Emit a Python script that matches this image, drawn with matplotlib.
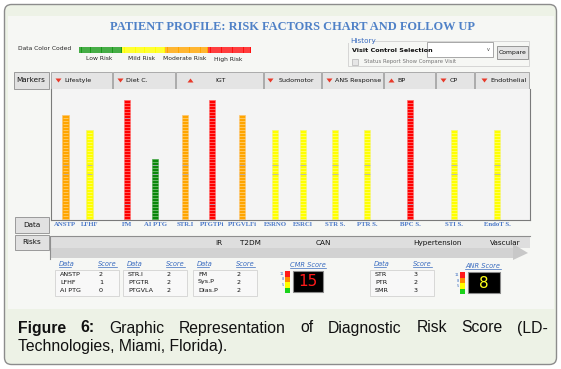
import matplotlib.pyplot as plt
import numpy as np
from matplotlib.patches import Rectangle, FancyBboxPatch, Polygon

# ---- data ----
markers = ['ANSTP', 'LFHF', 'FM', 'AI PTG', 'STR.I', 'PTGTPi', 'PTGVLFi',
           'ESRNO', 'ESRCl', 'STR S.', 'PTR S.', 'BPC S.', 'STI S.', 'EndoT S.']
levels = [35, 30, 40, 20, 35, 40, 35, 30, 30, 30, 30, 40, 30, 30]
risk_cls = ['moderate', 'mild', 'high', 'low', 'moderate', 'high', 'moderate',
            'mild', 'mild', 'mild', 'mild', 'high', 'mild', 'mild']
slots = [14.5, 38.5, 76, 104, 134, 161, 191, 224, 252, 284, 316, 359, 403, 446]

groups = ['Lifestyle', 'Diet C.', 'IGT', 'Sudomotor', 'ANS Response', 'BP', 'CP', 'Endothelial']
group_up = [False, False, True, False, False, True, False, False]
risks = ['IR', 'T2DM', 'CAN', 'Hypertension', 'Vascular']

tables = [
    (['ANSTP', 'LFHF', 'AI PTG'], [2, 1, 0]),
    (['STR.I', 'PTGTR', 'PTGVLA'], [2, 2, 2]),
    (['FM', 'Sys.P', 'Dias.P'], [2, 2, 2]),
    (['STR', 'PTR', 'SMR'], [3, 2, 3]),
]
cmr_score = 15
anr_score = 8

risk_colors = {'low': '#0a870a', 'mild': '#ffff00', 'moderate': '#ffa500', 'high': '#ff0000'}
edge_colors = {'low': '#4aa84a', 'mild': '#f4f47a', 'moderate': '#fcc46e', 'high': '#ff6a6a'}

fig = plt.figure(figsize=(5.61, 3.69), dpi=100)
fig.patch.set_facecolor('white')

# background axes in pixel coordinates
bg = fig.add_axes([0, 0, 1, 1])
bg.set_xlim(0, 561)
bg.set_ylim(369, 0)
bg.axis('off')

ui = 'DejaVu Sans'


def rect(x0, y0, x1, y1, **kw):
    bg.add_patch(Rectangle((x0, y0), x1 - x0, y1 - y0, **kw))


# outer frame + caption background
bg.add_patch(FancyBboxPatch((4.5, 4.5), 552, 360, boxstyle='round,pad=0,rounding_size=7',
                            fc='#edf2e6', ec='#8c8c8c', lw=1.0))
rect(8, 16, 554, 309, fc='#f6f7f4', ec='none')

# title
bg.text(293, 27, 'PATIENT PROFILE: RISK FACTORS CHART AND FOLLOW UP', ha='center', va='center',
        fontsize=8.9, family='Liberation Serif', weight='bold', color='#4f81c7')

# color legend
bg.text(18, 48.5, 'Data Color Coded', fontsize=4.3, family=ui, va='center', color='#222222')
seg_cols = ['#1a9a1a', '#ffff00', '#ffa500', '#ff1010']
seg_labels = ['Low Risk', 'Mild Risk', 'Moderate Risk', 'High Risk']
for i, (c, lab) in enumerate(zip(seg_cols, seg_labels)):
    x0 = 79 + i * 43
    rect(x0, 47, x0 + 43, 52.5, fc=c, ec='none')
    for xs in np.arange(x0 + 1.5, x0 + 43, 2.2):
        bg.plot([xs, xs], [47, 52.5], color='white', lw=0.35, alpha=0.8)
    bg.text(x0 + 20, 59, lab, fontsize=4.3, family=ui, ha='center', va='center', color='#222222')

# history box
rect(348, 40.5, 529, 66, fc='none', ec='#d0d0d0', lw=0.6)
rect(348, 38, 372, 43, fc='#f6f7f4', ec='none')
bg.text(350, 40.5, 'History', fontsize=5.2, family=ui, color='#3a6cc0', va='center')
bg.text(352, 50.5, 'Visit Control Selection', fontsize=4.6, family=ui, weight='bold', va='center',
        color='#111111')
rect(427, 42, 493, 57, fc='white', ec='#9a9a9a', lw=0.6)
bg.text(488, 49.5, 'v', fontsize=3.5, family=ui, ha='center', va='center', color='#444444')
rect(497, 46, 528, 58.5, fc='#e4e4e4', ec='#8a8a8a', lw=0.6)
bg.text(512.5, 52.5, 'Compare', fontsize=4.4, family=ui, ha='center', va='center', color='#111111')
rect(352, 59, 358, 64.5, fc='#e6e6e6', ec='#b4b4b4', lw=0.5)
bg.text(364, 61.5, 'Status Report Show Compare Visit', fontsize=3.9, family=ui, va='center',
        color='#777777')

# header row
cell_edges = [51, 113, 176, 264, 322, 384, 436, 475, 530]
rect(14, 72, 49, 89, fc='#e1e1e1', ec='#9a9a9a', lw=0.7)
bg.text(16, 80.5, 'Markers', fontsize=5.2, family=ui, va='center', color='#111111')
for i, g in enumerate(groups):
    x0, x1 = cell_edges[i] + 0.5, cell_edges[i + 1] - 0.5
    rect(x0, 72, x1, 89, fc='#e4e4e4', ec='#a0a0a0', lw=0.6)
    w = x1 - x0
    if w > 70:
        tx, ty = x0 + 14, x0 + w * 0.45
    else:
        tx, ty = x0 + 7, x0 + 13
    if g == 'Endothelial':
        tx, ty = x0 + 9, x0 + 15
    if g == 'Sudomotor':
        tx, ty = x0 + 6, x0 + 14
    if group_up[i]:
        tri = [[tx - 3, 82.5], [tx + 3, 82.5], [tx, 78.5]]
    else:
        tri = [[tx - 3, 78.5], [tx + 3, 78.5], [tx, 82.5]]
    bg.add_patch(Polygon(tri, closed=True, fc='#e83a2a', ec='none'))
    bg.text(ty, 80.5, g, fontsize=4.6, family=ui, va='center', color='#111111')

# side cells
rect(15, 217, 49, 233, fc='#e1e1e1', ec='#9a9a9a', lw=0.7)
bg.text(32, 225, 'Data', fontsize=5.2, family=ui, ha='center', va='center', color='#111111')
rect(15, 235, 49, 250, fc='#e1e1e1', ec='#9a9a9a', lw=0.7)
bg.text(32, 242.5, 'Risks', fontsize=5.2, family=ui, ha='center', va='center', color='#111111')

# risk band with arrow
rect(51, 236, 530, 248, fc='#dedede', ec='none')
rect(51, 248, 513, 258, fc='#d2d2d2', ec='none')
bg.add_patch(Polygon([[513, 244], [528, 253], [513, 260]], closed=True, fc='#c8c8c8', ec='none'))
bg.plot([50.5, 50.5, 530], [259, 236, 236], color='#8e8e8e', lw=0.8)
for lab, xc in zip(risks, [219, 250, 323, 437, 505]):
    bg.text(xc, 243, lab, fontsize=5.2, family=ui, ha='center', va='center', color='#111111')

# score tables
link = '#3a6cc0'
for (names, scores), x0 in zip(tables, [55, 123, 193, 370]):
    bg.text(x0 + 4, 264, 'Data', fontsize=4.8, family=ui, style='italic', color=link, va='center')
    bg.text(x0 + 43, 264, 'Score', fontsize=4.8, family=ui, style='italic', color=link, va='center')
    bg.plot([x0 + 4, x0 + 16], [267, 267], color=link, lw=0.5)
    bg.plot([x0 + 43, x0 + 62], [267, 267], color=link, lw=0.5)
    rect(x0, 270, x0 + 64, 296, fc='#f8f8f8', ec='#d2d2d2', lw=0.6)
    for k, (n, s) in enumerate(zip(names, scores)):
        bg.text(x0 + 5, 274 + 8 * k, n, fontsize=4.6, family=ui, va='center', color='#111111')
        bg.text(x0 + 44, 274 + 8 * k, str(s), fontsize=4.6, family=ui, va='center', color='#111111')


def score_box(xc, label, value, num_color, stack_x, box_x0, box_x1, y0):
    bg.text(xc, y0 - 6, label, fontsize=4.8, family=ui, style='italic', color=link,
            ha='center', va='center')
    bg.plot([xc - 18, xc + 18], [y0 - 3, y0 - 3], color=link, lw=0.5)
    for j, c in enumerate(['#ff1a1a', '#ff8c00', '#ffff00', '#1ad21a']):
        rect(stack_x, y0 + j * 5.5, stack_x + 5.5, y0 + (j + 1) * 5.5, fc=c, ec='none')
    for j, t in enumerate(['11', '8', '5']):
        bg.text(stack_x - 1, y0 + 3 + j * 5.5, t, fontsize=2.6, family=ui, color='#3a6cc0',
                ha='right', va='center')
    rect(box_x0, y0, box_x1, y0 + 21, fc='black', ec='#8a8a8a', lw=0.8)
    bg.text((box_x0 + box_x1) / 2, y0 + 11, str(value), fontsize=11, family=ui, color=num_color,
            ha='center', va='center')


score_box(308, 'CMR Score', cmr_score, '#ff1a1a', 285, 293, 323, 271)
score_box(483, 'ANR Score', anr_score, '#ffff1a', 460, 468, 500, 272)

# caption (justified first line)
fig.canvas.draw()
renderer = fig.canvas.get_renderer()
words = ['Figure', '6:', 'Graphic', 'Representation', 'of', 'Diagnostic', 'Risk', 'Score', '(LD-']
cap = []
for k, wd in enumerate(words):
    t = bg.text(0, 328, wd, fontsize=11.3, family='Liberation Sans', va='center', color='#111111',
                weight='bold' if k < 2 else 'normal')
    cap.append(t)
widths = [t.get_window_extent(renderer).width for t in cap]
gap = (548 - 18 - sum(widths)) / (len(words) - 1)
xpos = 18
for t, w in zip(cap, widths):
    t.set_x(xpos)
    xpos += w + gap
bg.text(18, 346, 'Technologies, Miami, Florida).', fontsize=11.3, family='Liberation Sans',
        va='center', color='#111111')

# ---- bar chart ----
ax = fig.add_axes([51 / 561, 1 - 220 / 369, (530 - 51) / 561, (220 - 89) / 369])
ax.set_facecolor('#f4f4f4')
ax.set_xlim(0, 479)
ax.set_ylim(-0.35, 43.7)
colors = [risk_colors[r] for r in risk_cls]
edges = [edge_colors[r] for r in risk_cls]
ax.bar(slots, levels, width=6.4, color=colors, edgecolor=edges, linewidth=0.5, zorder=2)
for x, v, r in zip(slots, levels, risk_cls):
    lv = np.arange(1, v)
    ax.hlines(lv, x - 2.8, x + 2.8, color='white', lw=0.4, alpha=0.65, zorder=3)
    grey = [15, 18] if r != 'high' else [5, 34]
    grey = [g for g in grey if g < v]
    ax.hlines(grey, x - 2.8, x + 2.8, color='#a8a8c0', lw=0.5, zorder=4)
ax.set_xticks(slots, markers, fontsize=4.9, family='Liberation Serif', weight='bold', color='#4a78c8')
ax.tick_params(axis='x', length=0, pad=1.5)
ax.set_yticks([])
for s in ['top']:
    ax.spines[s].set_visible(False)
for s in ['left', 'bottom', 'right']:
    ax.spines[s].set_color('#7a7a7a')
    ax.spines[s].set_linewidth(0.8)

fig.savefig('out.png', dpi=100)
